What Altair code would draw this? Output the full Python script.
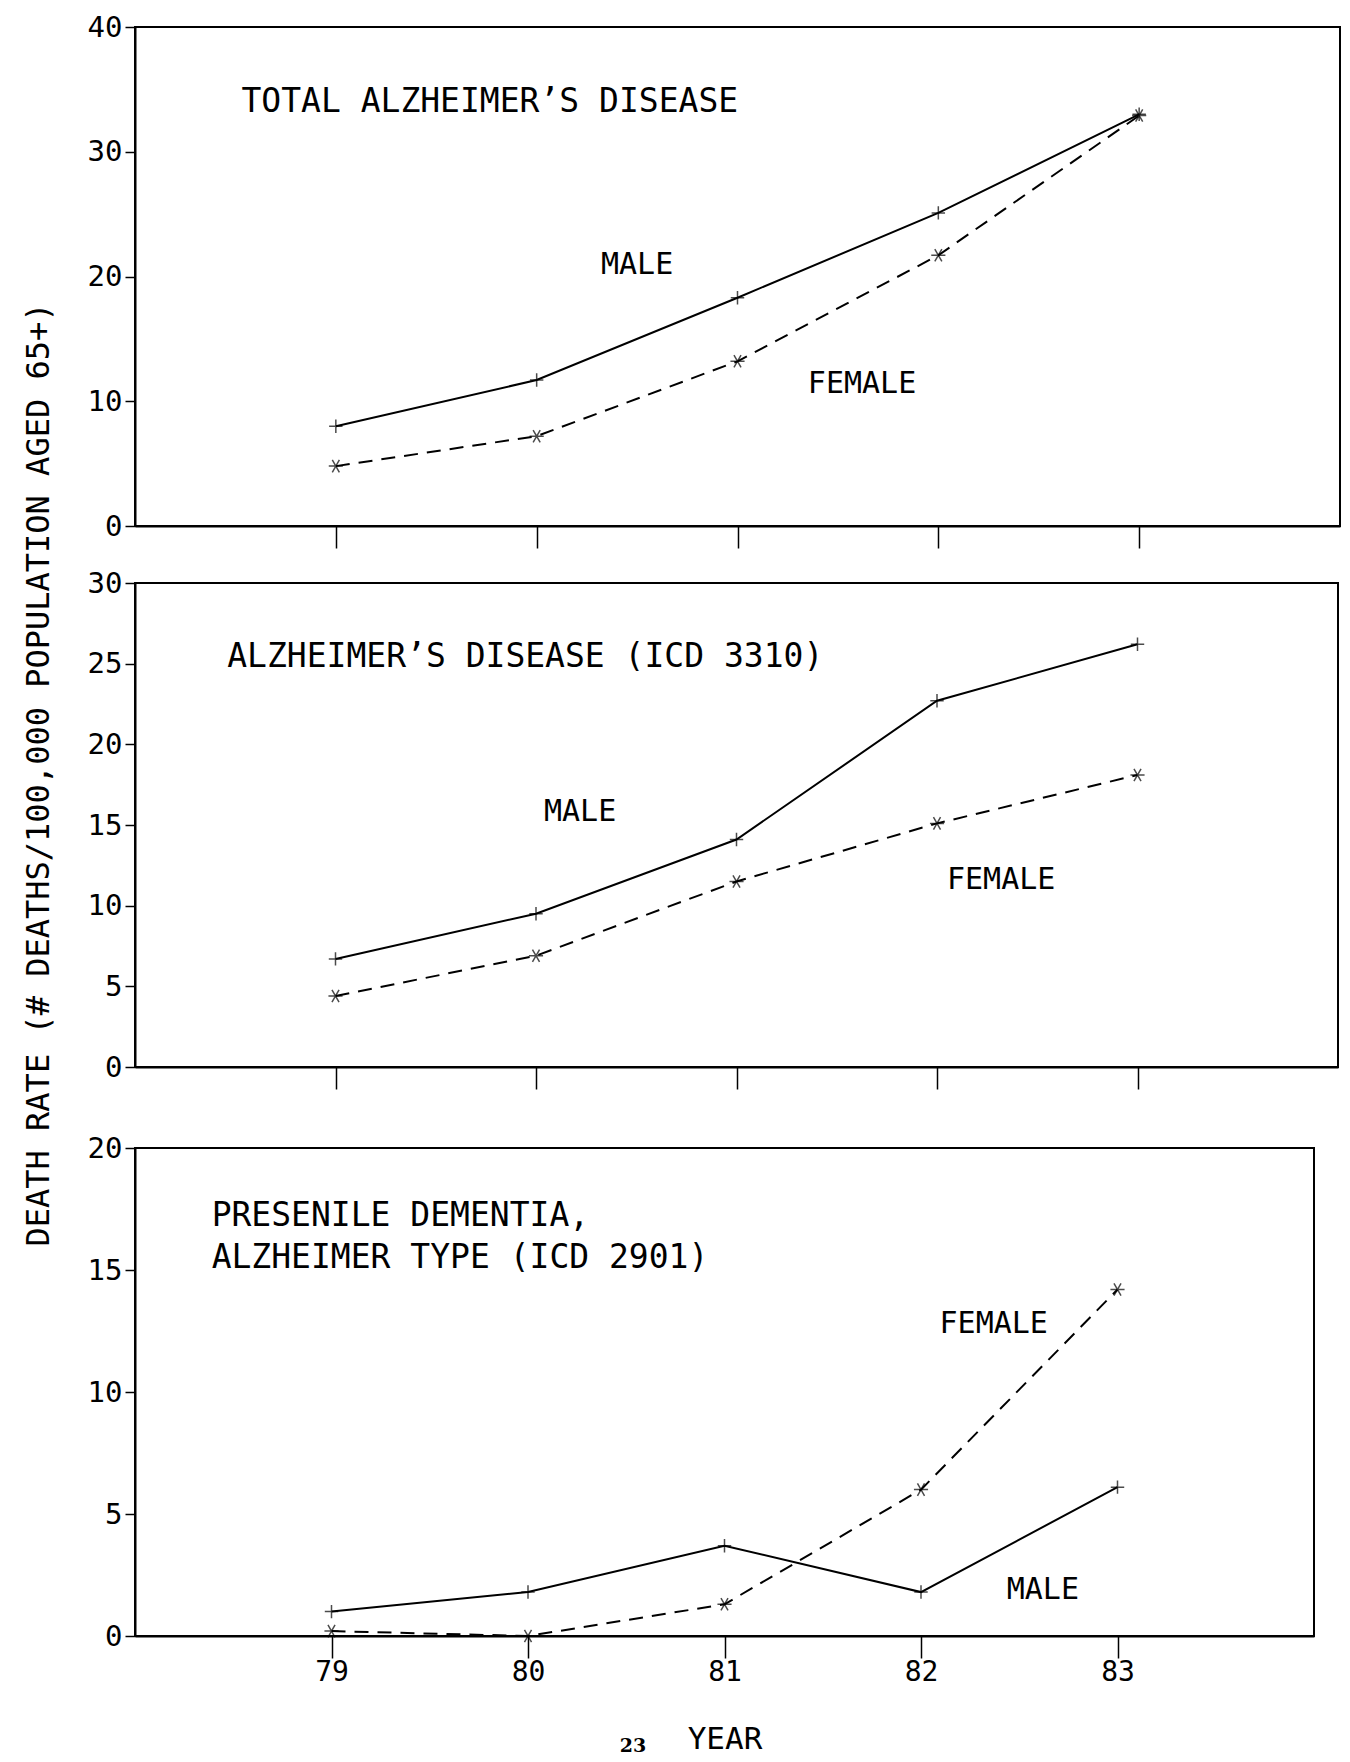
import altair as alt
import pandas as pd

years = [79, 80, 81, 82, 83]

total_male = [8.0, 11.7, 18.3, 25.1, 33.0]
total_female = [4.8, 7.2, 13.2, 21.7, 32.9]
icd3310_male = [6.7, 9.5, 14.1, 22.7, 26.2]
icd3310_female = [4.4, 6.9, 11.5, 15.1, 18.1]
icd2901_male = [1.0, 1.8, 3.7, 1.8, 6.1]
icd2901_female = [0.2, 0.0, 1.3, 6.0, 14.2]

panel_titles = [
    ["TOTAL ALZHEIMER\u2019S DISEASE"],
    ["ALZHEIMER\u2019S DISEASE (ICD 3310)"],
    ["PRESENILE DEMENTIA,", "ALZHEIMER TYPE (ICD 2901)"],
]
y_maxes = [40, 30, 20]
y_ticks = [[0, 10, 20, 30, 40], [0, 5, 10, 15, 20, 25, 30], [0, 5, 10, 15, 20]]
# label positions (data coords) for panel titles and series labels
title_pos = [(78.53, 34.0), (78.46, 25.4), (78.39, 17.2)]
male_lab = [(80.5, 20.9), (80.22, 15.8), (82.62, 1.9)]
female_lab = [(81.62, 11.4), (82.32, 11.6), (82.37, 12.8)]

Y_TITLE = "DEATH RATE (# DEATHS/100,000 POPULATION AGED 65+)"

FONT = "DejaVu Sans Mono"
PLUS = "M-1,0L1,0M0,-1L0,1"
STAR = "M-1,0L1,0M-0.5,-0.87L0.5,0.87M-0.5,0.87L0.5,-0.87"

widths = [1205, 1203, 1179]
heights = [499, 484, 488]

series = [
    (total_male, total_female),
    (icd3310_male, icd3310_female),
    (icd2901_male, icd2901_female),
]


def panel(i):
    m, f = series[i]
    df = pd.DataFrame({
        "year": years * 2,
        "rate": m + f,
        "sex": ["MALE"] * 5 + ["FEMALE"] * 5,
    })
    last = i == 2
    xaxis = alt.Axis(
        values=years,
        labels=last,
        format="d",
        labelFont=FONT,
        labelFontSize=28,
        labelColor="black",
        labelPadding=0,
        tickSize=22,
        tickColor="black",
        tickWidth=1.5,
        domainColor="black",
        domainWidth=2,
        grid=False,
        title="YEAR" if last else None,
        titleFont=FONT,
        titleFontSize=31,
        titleFontWeight="normal",
        titleColor="black",
        titlePadding=38,
    )
    yaxis = alt.Axis(
        values=y_ticks[i],
        format="d",
        labelFont=FONT,
        labelFontSize=29,
        labelColor="black",
        labelPadding=3,
        tickSize=10,
        tickColor="black",
        tickWidth=1.5,
        domainColor="black",
        domainWidth=2,
        grid=False,
        title=None,
    )

    x = alt.X("year:Q", scale=alt.Scale(domain=[78, 84], nice=False), axis=xaxis)
    y = alt.Y("rate:Q", scale=alt.Scale(domain=[0, y_maxes[i]], nice=False), axis=yaxis)

    base = alt.Chart(df)
    male_line = base.transform_filter(alt.datum.sex == "MALE").mark_line(
        color="black", strokeWidth=2
    ).encode(x=x, y=y)
    female_line = base.transform_filter(alt.datum.sex == "FEMALE").mark_line(
        color="black", strokeWidth=2, strokeDash=[14, 9]
    ).encode(x=x, y=y)
    male_pts = base.transform_filter(alt.datum.sex == "MALE").mark_point(
        shape=PLUS, size=180, color="black", strokeWidth=1.5, filled=False
    ).encode(x=x, y=y)
    female_pts = base.transform_filter(alt.datum.sex == "FEMALE").mark_point(
        shape=STAR, size=200, color="black", strokeWidth=1.5, filled=False
    ).encode(x=x, y=y)

    tdf = pd.DataFrame({
        "x": [title_pos[i][0]],
        "y": [title_pos[i][1]],
        "t": [panel_titles[i]],
    })
    title_txt = alt.Chart(tdf).mark_text(
        font=FONT, fontSize=33, align="left", baseline="middle",
        color="black", lineHeight=42
    ).encode(x="x:Q", y="y:Q", text="t")

    ldf = pd.DataFrame({
        "x": [male_lab[i][0], female_lab[i][0]],
        "y": [male_lab[i][1], female_lab[i][1]],
        "t": ["MALE", "FEMALE"],
    })
    lab_txt = alt.Chart(ldf).mark_text(
        font=FONT, fontSize=30, align="center", baseline="middle", color="black"
    ).encode(x="x:Q", y="y:Q", text="t:N")

    layers = [male_line, female_line, male_pts, female_pts, title_txt, lab_txt]
    if last:
        pg = alt.Chart(pd.DataFrame({"t": ["23"]})).mark_text(
            font="DejaVu Serif", fontSize=19, fontWeight="bold",
            align="center", baseline="middle", color="black"
        ).encode(x=alt.value(498), y=alt.value(heights[i] + 110), text="t:N")
        layers.append(pg)

    return alt.layer(*layers).properties(width=widths[i], height=heights[i])


upper = alt.vconcat(panel(0), panel(1), spacing=18)
chart = alt.vconcat(upper, panel(2), spacing=42).properties(
    padding={"top": 4, "left": 15, "right": 0, "bottom": 0},
    background="white",
    title=alt.TitleParams(
        text=Y_TITLE,
        orient="left",
        anchor="middle",
        font=FONT,
        fontSize=32,
        fontWeight="normal",
        color="black",
        offset=30,
        dx=110,
    ),
).configure_view(
    stroke="black", strokeWidth=2
)

chart.save("out.html", embed_options={"renderer": "svg", "actions": False})
